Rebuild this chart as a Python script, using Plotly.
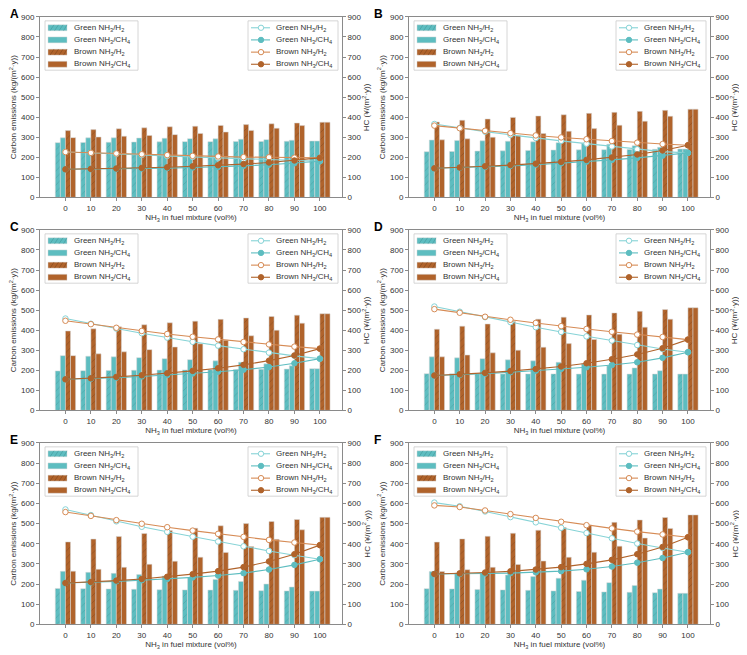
import plotly.graph_objects as go

x_vals = [0, 10, 20, 30, 40, 50, 60, 70, 80, 90, 100]
panel_letters = ["A", "B", "C", "D", "E", "F"]
series_names = ["Green NH<sub>3</sub>/H<sub>2</sub>", "Green NH<sub>3</sub>/CH<sub>4</sub>",
                "Brown NH<sub>3</sub>/H<sub>2</sub>", "Brown NH<sub>3</sub>/CH<sub>4</sub>"]

# Bars (carbon emissions, kg/(m2*y))
bar_green_h2 = {
    "A": [273, 274, 275, 276, 277, 278, 278, 279, 279, 280, 281],
    "B": [228, 229, 231, 232, 234, 236, 237, 238, 239, 240, 241],
    "C": [197, 198, 199, 200, 201, 202, 203, 204, 205, 206, 208],
    "D": [183, 183, 183, 182, 182, 182, 181, 181, 181, 181, 181],
    "E": [178, 177, 176, 174, 172, 171, 170, 169, 167, 166, 165],
    "F": [177, 176, 173, 171, 169, 166, 163, 161, 159, 157, 154],
}
bar_green_ch4 = {
    "A": [297, 297, 297, 296, 295, 293, 292, 290, 288, 285, 281],
    "B": [286, 284, 282, 280, 277, 273, 270, 265, 258, 250, 241],
    "C": [273, 270, 267, 263, 258, 253, 247, 240, 232, 222, 208],
    "D": [267, 262, 258, 252, 247, 240, 232, 223, 212, 198, 181],
    "E": [263, 258, 253, 247, 240, 232, 223, 213, 200, 185, 165],
    "F": [262, 255, 253, 245, 237, 229, 219, 207, 193, 175, 154],
}
bar_brown_h2 = {
    "A": [333, 338, 342, 347, 352, 355, 359, 363, 367, 371, 375],
    "B": [376, 385, 391, 399, 406, 412, 419, 424, 429, 434, 440],
    "C": [396, 407, 417, 427, 437, 445, 454, 461, 468, 475, 482],
    "D": [405, 420, 431, 443, 455, 465, 476, 486, 494, 503, 512],
    "E": [409, 423, 436, 451, 465, 477, 489, 500, 510, 520, 531],
    "F": [408, 424, 437, 452, 467, 480, 493, 506, 518, 530, 543],
}
bar_brown_ch4 = {
    "A": [298, 301, 305, 309, 313, 319, 326, 334, 345, 358, 375],
    "B": [287, 292, 300, 308, 318, 330, 343, 360, 380, 405, 440],
    "C": [273, 282, 292, 303, 316, 332, 350, 372, 400, 435, 482],
    "D": [267, 276, 287, 300, 315, 333, 354, 380, 415, 455, 512],
    "E": [264, 273, 283, 298, 313, 333, 357, 386, 422, 469, 531],
    "F": [262, 271, 283, 297, 314, 333, 358, 388, 428, 476, 543],
}

# Lines (HC, yuan/(m2*y))
hc_green_h2 = {
    "A": [226, 222, 217, 212, 207, 202, 197, 192, 187, 182, 180],
    "B": [366, 346, 328, 312, 296, 282, 268, 254, 240, 228, 222],
    "C": [458, 432, 408, 385, 363, 342, 323, 305, 288, 272, 258],
    "D": [518, 492, 465, 440, 415, 391, 369, 348, 326, 306, 290],
    "E": [570, 542, 511, 484, 459, 435, 411, 387, 364, 343, 323],
    "F": [604, 586, 560, 532, 506, 479, 453, 427, 401, 379, 358],
}
hc_green_ch4 = {
    "A": [140, 141, 142, 144, 146, 149, 152, 157, 163, 170, 180],
    "B": [145, 148, 152, 157, 163, 170, 178, 187, 197, 208, 222],
    "C": [155, 158, 163, 169, 176, 184, 193, 203, 216, 235, 258],
    "D": [174, 177, 183, 190, 198, 207, 215, 226, 240, 262, 290],
    "E": [205, 208, 213, 219, 225, 233, 242, 254, 272, 295, 323],
    "F": [250, 250, 252, 254, 258, 264, 273, 287, 306, 329, 358],
}
hc_brown_h2 = {
    "A": [226, 222, 219, 215, 211, 207, 204, 201, 200, 198, 197],
    "B": [358, 345, 332, 320, 309, 299, 290, 281, 273, 266, 260],
    "C": [447, 430, 412, 396, 381, 367, 354, 341, 329, 318, 308],
    "D": [505, 487, 467, 452, 436, 420, 406, 392, 378, 366, 353],
    "E": [557, 538, 517, 499, 482, 465, 449, 434, 419, 406, 393],
    "F": [590, 582, 565, 547, 528, 509, 492, 476, 460, 446, 432],
}
hc_brown_ch4 = {
    "A": [140, 142, 144, 147, 150, 155, 160, 166, 174, 184, 197],
    "B": [145, 149, 155, 161, 168, 177, 187, 199, 214, 234, 260],
    "C": [155, 160, 167, 175, 185, 197, 210, 227, 248, 274, 308],
    "D": [174, 180, 187, 196, 206, 219, 235, 255, 279, 310, 353],
    "E": [205, 210, 217, 225, 236, 249, 264, 284, 312, 348, 393],
    "F": [250, 253, 257, 263, 272, 284, 300, 320, 348, 384, 432],
}

# The page body adds an 8px margin, so the figure is drawn 8px smaller and shifted.
OFF = 8
W, H = 747 - OFF, 655 - OFF
FONT = "Liberation Sans, Arial, sans-serif"
TEAL = "#5dbdc0"
TEAL_LIGHT = "#86d3d6"
BROWN = "#b0632b"
BROWN_LIGHT = "#d68b55"
TEAL_HATCH = "#3f8f92"
BROWN_HATCH = "#74401a"
SPINE = "#8a8a8a"
TXT = "#333333"


def px(xr):
    return (xr - OFF) / W


def py(yr):
    return 1 - (yr - OFF) / H


# reference pixel geometry of panels
col_px = [(40, 342), (409, 710)]
row_px = [(13, 196), (229, 412), (445, 629)]

fig = go.Figure()
shapes = []
annotations = []

for i, L in enumerate(panel_letters):
    p = i + 1
    r, c = divmod(i, 2)
    x0, x1 = col_px[c]
    yt, yb = row_px[r]
    xa = "x" if p == 1 else f"x{p}"
    ya = "y" if p == 1 else f"y{p}"
    ya2 = f"y{p + 6}"

    bar_sets = [
        (bar_green_h2[L], TEAL, "/", TEAL_HATCH, -4),
        (bar_green_ch4[L], TEAL, "", None, -2),
        (bar_brown_h2[L], BROWN, "/", BROWN_HATCH, 0),
        (bar_brown_ch4[L], BROWN, "", None, 2),
    ]
    for (vals, col, shp, fg, off), nm in zip(bar_sets, series_names):
        pat = dict(shape=shp, fgcolor=fg, size=5, solidity=0.15) if shp else dict(shape="")
        fig.add_trace(go.Bar(
            x=x_vals, y=vals, width=2, offset=off, name=nm,
            marker=dict(color=col, line=dict(color="rgba(215,215,215,0.9)", width=0.6), pattern=pat),
            xaxis=xa, yaxis=ya, showlegend=False,
        ))

    line_sets = [
        (hc_green_h2[L], TEAL_LIGHT, "white", TEAL_LIGHT),
        (hc_green_ch4[L], TEAL, TEAL, TEAL),
        (hc_brown_h2[L], BROWN_LIGHT, "white", BROWN_LIGHT),
        (hc_brown_ch4[L], BROWN, BROWN, BROWN),
    ]
    for (vals, lc, fc, ec), nm in zip(line_sets, series_names):
        fig.add_trace(go.Scatter(
            x=x_vals, y=vals, mode="lines+markers", name=nm,
            line=dict(color=lc, width=1.1),
            marker=dict(symbol="circle", size=5.5, color=fc, line=dict(color=ec, width=1)),
            xaxis=xa, yaxis=ya2, showlegend=False,
        ))

    xdom = [px(x0), px(x1)]
    ydom = [py(yb), py(yt)]
    axis_common = dict(showline=True, linecolor=SPINE, linewidth=1, ticks="outside",
                       ticklen=3, tickcolor=SPINE, tickwidth=1, showgrid=False, zeroline=False,
                       tickfont=dict(size=8, color=TXT, family=FONT))
    xkey = "xaxis" if p == 1 else f"xaxis{p}"
    ykey = "yaxis" if p == 1 else f"yaxis{p}"
    fig.layout[xkey] = dict(domain=xdom, anchor=ya, range=[-10, 108.7], tickmode="array",
                            tickvals=x_vals, mirror=True,
                            title=dict(text="NH<sub>3</sub> in fuel mixture (vol%)",
                                       font=dict(size=8, color=TXT), standoff=0),
                            **axis_common)
    fig.layout[ykey] = dict(domain=ydom, anchor=xa, range=[0, 900], dtick=100,
                            title=dict(text="Carbon emissions (kg/(m<sup>2</sup>·y))",
                                       font=dict(size=8, color=TXT), standoff=3),
                            **axis_common)
    fig.layout[f"yaxis{p + 6}"] = dict(domain=ydom, anchor=xa, overlaying=ya, side="right",
                                       range=[0, 900], dtick=100, **axis_common)
    # right axis title placed as a rotated annotation next to the right tick labels
    annotations.append(dict(text="HC (¥/(m<sup>2</sup>·y))", x=px(x1 + 24), y=py((yt + yb) / 2),
                            xref="paper", yref="paper", xanchor="center", yanchor="middle",
                            textangle=-90, showarrow=False,
                            font=dict(size=8, color=TXT, family=FONT)))

    # ---- legends (drawn as paper-space boxes, swatches and text) ----
    dx = x0 - 40
    dy = yt - 14
    entry_y = [25 + dy, 37.3 + dy, 49.7 + dy, 62 + dy]

    # bar legend
    bx0, bx1, by0, by1 = 45 + dx, 138 + dx, 18 + dy, 68 + dy
    shapes.append(dict(type="rect", xref="paper", yref="paper", x0=px(bx0), x1=px(bx1),
                       y0=py(by1), y1=py(by0), line=dict(color="#cccccc", width=0.8),
                       fillcolor="rgba(255,255,255,0.9)", layer="above"))
    sw = [(TEAL, True), (TEAL, False), (BROWN, True), (BROWN, False)]
    for (col, hatched), ey, nm in zip(sw, entry_y, series_names):
        sx0, sx1 = 48 + dx, 67 + dx
        shapes.append(dict(type="rect", xref="paper", yref="paper", x0=px(sx0), x1=px(sx1),
                           y0=py(ey + 3), y1=py(ey - 3), line=dict(color="rgba(215,215,215,0.9)", width=0.5),
                           fillcolor=col, layer="above"))
        if hatched:
            hc = TEAL_HATCH if col == TEAL else BROWN_HATCH
            for k in range(4):
                hx = sx0 + 2 + k * 4.5
                shapes.append(dict(type="line", xref="paper", yref="paper",
                                   x0=px(hx), x1=px(min(hx + 4, sx1)), y0=py(ey + 3), y1=py(ey - 3),
                                   line=dict(color=hc, width=0.5), layer="above"))
        annotations.append(dict(text=nm, x=px(72 + dx), y=py(ey), xref="paper", yref="paper",
                                xanchor="left", yanchor="middle", showarrow=False,
                                font=dict(size=8, color=TXT, family=FONT)))

    # line legend
    lx0, lx1 = x1 - 94, x1 - 4
    shapes.append(dict(type="rect", xref="paper", yref="paper", x0=px(lx0), x1=px(lx1),
                       y0=py(by1), y1=py(by0), line=dict(color="#cccccc", width=0.8),
                       fillcolor="rgba(255,255,255,0.9)", layer="above"))
    for (vals, lc, fc, ec), ey, nm in zip(line_sets, entry_y, series_names):
        shapes.append(dict(type="line", xref="paper", yref="paper", x0=px(lx0 + 3), x1=px(lx0 + 22),
                           y0=py(ey), y1=py(ey), line=dict(color=lc, width=1.1), layer="above"))
        shapes.append(dict(type="circle", xref="paper", yref="paper",
                           x0=px(lx0 + 10.3), x1=px(lx0 + 15.7), y0=py(ey + 2.7), y1=py(ey - 2.7),
                           fillcolor=fc, line=dict(color=ec, width=1), layer="above"))
        annotations.append(dict(text=nm, x=px(lx0 + 26), y=py(ey), xref="paper", yref="paper",
                                xanchor="left", yanchor="middle", showarrow=False,
                                font=dict(size=8, color=TXT, family=FONT)))

    annotations.append(dict(
        text=f"<b>{L}</b>", x=max(px(x0 - 37), 0), y=py(yt - 12), xref="paper", yref="paper",
        xanchor="left", yanchor="top", showarrow=False,
        font=dict(size=12, color="black", family=FONT)))

fig.update_layout(
    width=W, height=H, margin=dict(l=0, r=0, t=0, b=0),
    paper_bgcolor="white", plot_bgcolor="white",
    font=dict(family=FONT, size=8, color=TXT),
    barmode="overlay", shapes=shapes, annotations=annotations, showlegend=False,
)
fig.write_html("out.html")
